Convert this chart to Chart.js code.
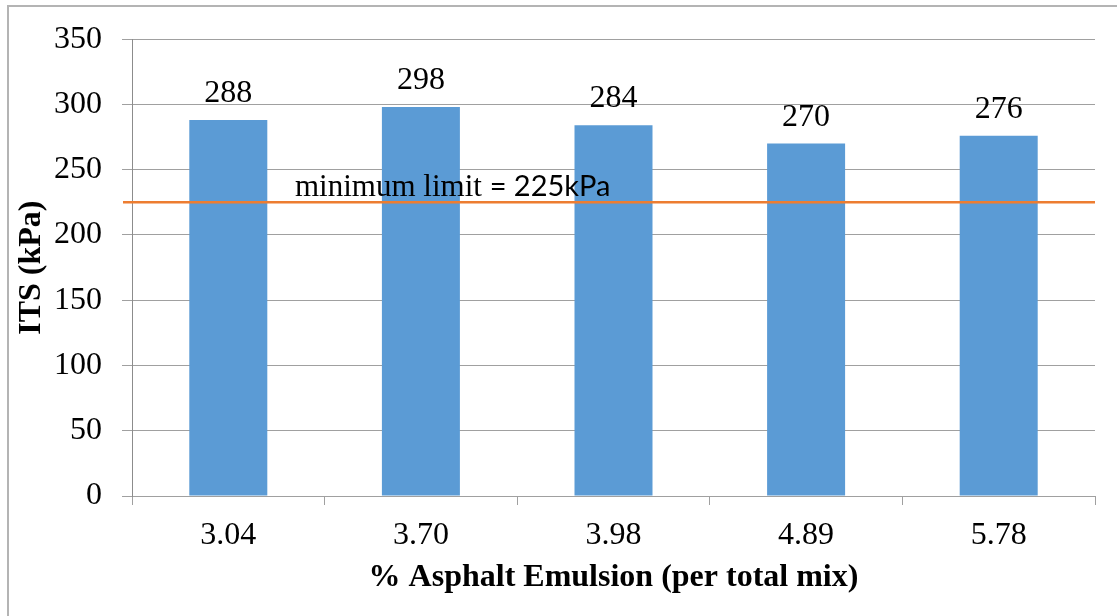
<!DOCTYPE html>
<html>
<head>
<meta charset="utf-8">
<title>ITS vs Asphalt Emulsion</title>
<script src="https://cdn.jsdelivr.net/npm/chart.js@4.4.1/dist/chart.umd.min.js"></script>
<style>
    html, body { margin: 0; padding: 0; background: #ffffff; overflow: hidden; }
    #wrap { width: 1117px; height: 616px; position: relative; }
</style>
</head>
<body>
<div id="wrap"><canvas id="itsChart" width="1117" height="616"></canvas></div>
<script>
// chart data
const categories = ['3.04', '3.70', '3.98', '4.89', '5.78'];
const itsValues = [288, 298, 284, 270, 276];
const limitValue = 225;
const yTicks = [0, 50, 100, 150, 200, 250, 300, 350];

const serif = '"Liberation Serif", "Times New Roman", serif';

// draws the outer frame, value labels and the minimum limit line + text
const extrasPlugin = {
    id: 'extras',
    beforeDraw(chart) {
        const ctx = chart.ctx;
        ctx.save();
        ctx.strokeStyle = '#B4B4B4';
        ctx.lineWidth = 2;
        ctx.strokeRect(8, 6, 1300, 800);
        ctx.restore();
    },
    afterDatasetsDraw(chart) {
        const ctx = chart.ctx;
        const area = chart.chartArea;
        const meta = chart.getDatasetMeta(0);

        ctx.save();
        // value labels above each bar
        ctx.fillStyle = '#000000';
        ctx.font = '32px ' + serif;
        ctx.textAlign = 'center';
        ctx.textBaseline = 'alphabetic';
        meta.data.forEach((bar, i) => {
            ctx.fillText(String(itsValues[i]), bar.x, bar.y - 18);
        });

        // minimum limit line
        const yLimit = chart.scales.y.getPixelForValue(limitValue);
        ctx.strokeStyle = '#ED7D31';
        ctx.lineWidth = 2.5;
        ctx.beginPath();
        ctx.moveTo(area.left - 9, yLimit);
        ctx.lineTo(area.right, yLimit);
        ctx.stroke();

        // label: first part serif, second part sans (as in the original)
        const tx = area.left + 163;
        const ty = yLimit - 6;
        ctx.textAlign = 'left';
        ctx.font = '31px ' + serif;
        const part1 = 'minimum limit ';
        ctx.fillText(part1, tx, ty);
        const w1 = ctx.measureText(part1).width;
        ctx.font = '29px Lato, "Open Sans", sans-serif';
        ctx.fillText('= ' + limitValue + 'kPa', tx + w1, ty);
        ctx.restore();
    }
};

function createChart(canvas) {
    const ctx = canvas.getContext('2d');
    return new Chart(ctx, {
        type: 'bar',
        data: {
            labels: categories,
            datasets: [{
                label: 'ITS',
                data: itsValues,
                backgroundColor: '#5B9BD5',
                borderWidth: 0,
                barPercentage: 0.405,
                categoryPercentage: 1.0
            }]
        },
        options: {
            responsive: false,
            animation: false,
            layout: {
                padding: { top: 39, right: 22, left: 0, bottom: 0 }
            },
            plugins: {
                legend: { display: false },
                tooltip: { enabled: false }
            },
            scales: {
                x: {
                    grid: {
                        offset: true,
                        drawOnChartArea: false,
                        drawTicks: true,
                        tickLength: 9,
                        color: '#A0A0A0'
                    },
                    border: { display: true, color: '#A0A0A0', width: 1 },
                    ticks: {
                        color: '#000000',
                        font: { family: serif, size: 32 },
                        padding: 11,
                        maxRotation: 0
                    },
                    title: {
                        display: true,
                        text: '% Asphalt Emulsion (per total mix)',
                        color: '#000000',
                        font: { family: serif, size: 32, weight: 'bold' },
                        padding: { top: 19, bottom: 19 }
                    },
                    afterFit(scale) {
                        scale.height = 120;
                    }
                },
                y: {
                    min: 0,
                    max: 350,
                    afterBuildTicks(scale) {
                        scale.ticks = yTicks.map(v => ({ value: v }));
                    },
                    grid: {
                        color: '#A0A0A0',
                        tickLength: 10,
                        lineWidth: 1
                    },
                    border: { display: true, color: '#8C8C8C', width: 1 },
                    ticks: {
                        color: '#000000',
                        font: { family: serif, size: 32 },
                        padding: 20
                    },
                    title: {
                        display: true,
                        text: 'ITS (kPa)',
                        color: '#000000',
                        font: { family: serif, size: 32, weight: 'bold' },
                        padding: { top: 13, bottom: 0 }
                    },
                    afterFit(scale) {
                        scale.width = 132;
                    }
                }
            }
        },
        plugins: [extrasPlugin]
    });
}

document.addEventListener('DOMContentLoaded', () => {
    createChart(document.getElementById('itsChart'));
});
</script>
</body>
</html>
